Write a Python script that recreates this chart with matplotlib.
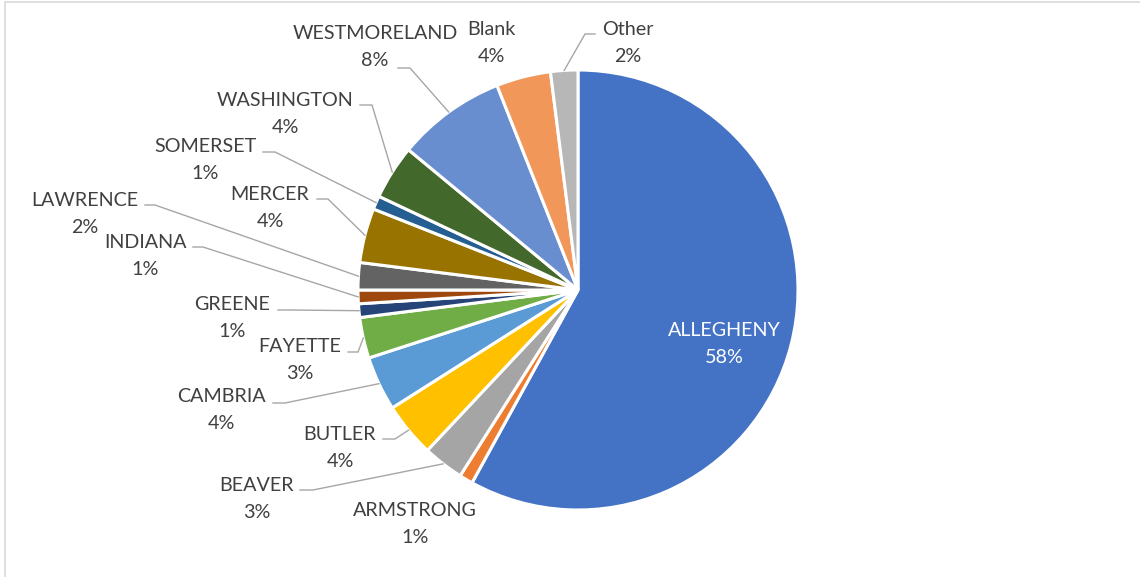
import numpy as np
import matplotlib
matplotlib.use("Agg")
import matplotlib.pyplot as plt
from matplotlib.patches import Rectangle

# data
counties = ["ALLEGHENY", "ARMSTRONG", "BEAVER", "BUTLER", "CAMBRIA", "FAYETTE",
            "GREENE", "INDIANA", "LAWRENCE", "MERCER", "SOMERSET", "WASHINGTON",
            "WESTMORELAND", "Blank", "Other"]
shares = [58, 1, 3, 4, 4, 3, 1, 1, 2, 4, 1, 4, 8, 4, 2]
colors = ["#4472C4", "#ED7D31", "#A5A5A5", "#FFC000", "#5B9BD5", "#70AD47",
          "#264478", "#9E480E", "#636363", "#997300", "#255E91", "#43682B",
          "#698ED0", "#F1975A", "#B7B7B7"]

# label layout in image pixels (x, y of label centre)
label_pos = [(724, 344), (415, 524), (257, 499), (340, 448), (221, 410), (300, 360),
             (232, 318), (145, 256), (85, 214), (270, 208), (205, 160), (285, 114),
             (375, 47), (491, 43), (628, 43)]
# leader start (x, y) and elbow x, None = no leader
leaders = [None, None, (300, 490, 313), (383, 439, 395), (273, 403, 285),
           (348, 352, 358), (278, 310, 290), (193, 247, 203), (145, 205, 155),
           (317, 199, 328), (263, 152, 275), (360, 105, 372), (398, 68, 410),
           None, (595, 34, 585)]

W, H = 1140, 577
cx, cy, r = 578, 290, 220


def fy(y):
    return H - y


fig = plt.figure(figsize=(W / 100, H / 100), dpi=100)
ax = fig.add_axes([0, 0, 1, 1])

wedges, _ = ax.pie(shares, colors=colors, startangle=90, counterclock=False,
                   center=(cx, fy(cy)), radius=r,
                   wedgeprops=dict(edgecolor="white", linewidth=2.2))

ax.set_xlim(0, W)
ax.set_ylim(0, H)
ax.set_aspect("equal")
ax.axis("off")

total = sum(shares)
for i, (name, val) in enumerate(zip(counties, shares)):
    lx, ly = label_pos[i]
    pct = f"{round(100 * val / total)}%"
    col = "white" if i == 0 else "#404040"
    ax.text(lx, fy(ly), f"{name}\n{pct}", ha="center", va="center",
            fontsize=14.2, family="Lato", color=col, linespacing=1.68)
    if leaders[i] is not None:
        w = wedges[i]
        mid = np.deg2rad((w.theta1 + w.theta2) / 2)
        ex = cx + r * np.cos(mid)
        ey = fy(cy) + r * np.sin(mid)
        sx, sy, kx = leaders[i]
        ax.plot([sx, kx, ex], [fy(sy), fy(sy), ey], color="#A6A6A6", lw=1.0,
                solid_joinstyle="miter")

# chart frame
fig.patches.append(Rectangle((5 / W, -0.1), 1.2, (H - 1.5) / H + 0.1,
                             transform=fig.transFigure, fill=False,
                             edgecolor="#D9D9D9", linewidth=1.2))

fig.savefig("out.png", dpi=100)
